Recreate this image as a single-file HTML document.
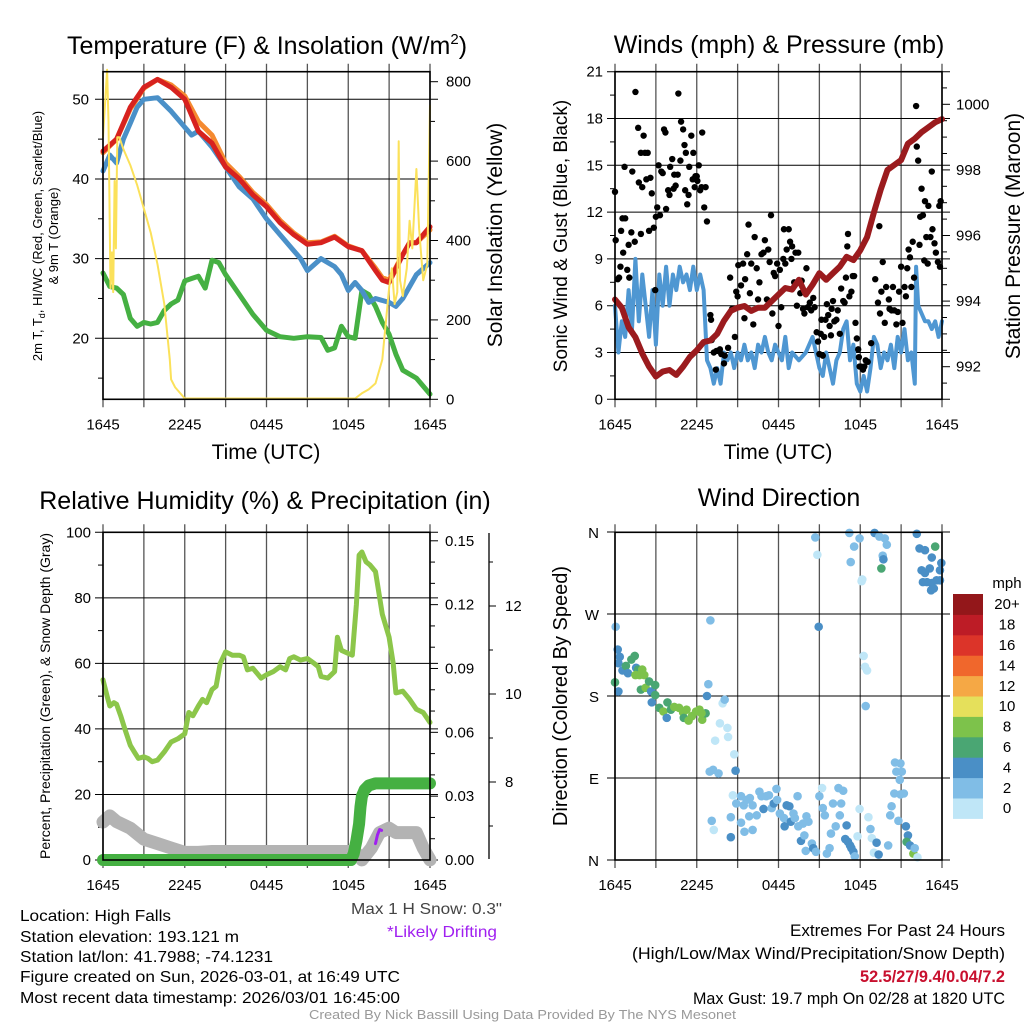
<!DOCTYPE html>
<html><head><meta charset="utf-8"><style>
html,body{margin:0;padding:0;background:#fff;}
svg{display:block;font-family:"Liberation Sans",Arial,sans-serif;}
</style></head><body>
<svg id="svg" width="1024" height="1024" viewBox="0 0 1024 1024" xmlns="http://www.w3.org/2000/svg">
<rect width="1024" height="1024" fill="#fff"/>
<text x="267" y="54" font-size="25" text-anchor="middle">Temperature (F) &amp; Insolation (W/m<tspan dy="-10" font-size="15">2</tspan><tspan dy="10">)</tspan></text>
<text x="779" y="53" font-size="25" text-anchor="middle">Winds (mph) &amp; Pressure (mb)</text>
<text x="265" y="509" font-size="25" text-anchor="middle">Relative Humidity (%) &amp; Precipitation (in)</text>
<text x="779" y="506" font-size="25" text-anchor="middle">Wind Direction</text>
<text x="266" y="459" font-size="21" text-anchor="middle">Time (UTC)</text>
<text x="778" y="459" font-size="21" text-anchor="middle">Time (UTC)</text>
<text transform="translate(42,236) rotate(-90)" font-size="13" text-anchor="middle">2m T, T<tspan font-size="9" dy="3">d</tspan><tspan dy="-3">, HI/WC (Red, Green, Scarlet/Blue)</tspan></text>
<text transform="translate(58,236) rotate(-90)" font-size="13" text-anchor="middle">&amp; 9m T (Orange)</text>
<text transform="translate(502,235) rotate(-90)" font-size="21" text-anchor="middle">Solar Insolation (Yellow)</text>
<text transform="translate(567,236) rotate(-90)" font-size="19" text-anchor="middle">Sonic Wind &amp; Gust (Blue, Black)</text>
<text transform="translate(1020,236) rotate(-90)" font-size="21" text-anchor="middle">Station Pressure (Maroon)</text>
<text transform="translate(50,696) rotate(-90)" font-size="14" text-anchor="middle">Percent, Precipitation (Green), &amp; Snow Depth (Gray)</text>
<text transform="translate(567,696) rotate(-90)" font-size="20" text-anchor="middle">Direction (Colored By Speed)</text>
<g font-size="16">
<text x="20" y="921" textLength="151" lengthAdjust="spacingAndGlyphs">Location: High Falls</text>
<text x="20" y="942" textLength="219" lengthAdjust="spacingAndGlyphs">Station elevation: 193.121 m</text>
<text x="20" y="962" textLength="253" lengthAdjust="spacingAndGlyphs">Station lat/lon: 41.7988; -74.1231</text>
<text x="20" y="982" textLength="380" lengthAdjust="spacingAndGlyphs">Figure created on Sun, 2026-03-01, at 16:49 UTC</text>
<text x="20" y="1003" textLength="380" lengthAdjust="spacingAndGlyphs">Most recent data timestamp: 2026/03/01 16:45:00</text>
</g>
<text x="351" y="914" font-size="16" fill="#444" textLength="151" lengthAdjust="spacingAndGlyphs">Max 1 H Snow: 0.3"</text>
<text x="387" y="937" font-size="16" fill="#a020f0" textLength="110" lengthAdjust="spacingAndGlyphs">*Likely Drifting</text>
<g font-size="17">
<text x="790" y="936" textLength="215" lengthAdjust="spacingAndGlyphs">Extremes For Past 24 Hours</text>
<text x="632" y="959" textLength="373" lengthAdjust="spacingAndGlyphs">(High/Low/Max Wind/Precipitation/Snow Depth)</text>
<text x="860" y="982" fill="#c8102e" font-weight="bold" textLength="145" lengthAdjust="spacingAndGlyphs">52.5/27/9.4/0.04/7.2</text>
<text x="693" y="1004" textLength="312" lengthAdjust="spacingAndGlyphs">Max Gust: 19.7 mph On 02/28 at 1820 UTC</text>
</g>
<text x="309" y="1019" font-size="13" fill="#999" textLength="427" lengthAdjust="spacingAndGlyphs">Created By Nick Bassill Using Data Provided By The NYS Mesonet</text>
</svg>
<script>
const xTickLabels=["1645","2245","0445","1045","1645"];
// Temperature panel
const tempHours=[0,1,2,3,4,5,6,7,8,9,10,11,12,13,14,15,16,17,18,19,20,20.5,21,22,22.5,23,24];
const tempRed=[43.5,45,49,51.5,52.5,51.5,50,46,44.5,41.5,40,38,36.5,34.5,33,31.8,32,32.7,31.5,31,28.5,27.3,27,30.5,32,32,34];
const tempOrange=[43.3,45,48.8,51.4,52.5,51.8,50.4,47.2,45.5,42,40.3,38.3,36.8,34.8,33.2,32,32.1,32.8,31.6,31,28.8,27.6,27.3,30.5,32,32,33.6];
const wcHours=[0,0.5,1,1.5,2,2.5,3,4,5,6,6.5,7,7.5,8,9,10,11,12,13,14,14.5,15,16,17,17.5,18,18.5,19,19.5,20,21,21.5,22,23,24];
const wcBlue=[41,43,42,45,47,49,50,50.2,48.5,46.5,45.5,46,45,44,41.5,39,37.5,35,33,31,30,28.5,30,29,28,26,27,26,24.5,25,24.5,24,25,28,29.5];
const dewHours=[0,0.5,1,1.5,2,2.5,3,3.5,4,4.5,5,5.5,6,6.5,7,7.5,8,8.5,9,10,11,12,13,14,15,16,16.5,17,17.5,18,18.5,19,19.5,20,20.5,21,21.5,22,23,23.5,24];
const dewGreen=[28.2,26.5,26.3,25.5,22.5,21.5,22,21.8,22,23.5,24.3,24.8,27.2,27.5,27.8,26.3,29.8,29.5,28,25.5,23,21,20.2,20,20.2,20.1,18.5,18.8,21.5,20.2,20,26,25.5,24,22,20.5,18,16,15,14,13];
const solarHours=[0,0.3,0.4,0.55,0.65,0.75,0.85,0.95,1.05,1.2,1.5,2,2.5,3,3.5,4,4.5,4.9,5,5.3,6,18.5,19,19.5,20,20.5,21,21.2,21.4,21.6,21.7,21.8,22,22.3,22.5,22.7,23,23.2,23.5,23.8,24];
const solarVals=[660,830,700,280,370,270,550,380,660,660,630,590,540,480,420,340,240,100,50,30,2,2,15,25,40,100,280,330,240,270,650,300,260,330,450,380,580,430,300,340,740];
// Wind panel
const pressHours=[0,0.5,1,1.5,2,2.5,3,3.5,4,4.5,5,5.5,6,6.5,7,7.5,8,8.5,9,9.5,10,10.5,11,11.5,12,12.5,13,13.5,14,14.5,15,15.5,16,16.5,17,17.5,18,18.5,19,19.5,20,20.5,21,21.5,22,22.5,23,23.5,24];
const pressVals=[994.05,993.8,993.2,992.9,992.4,992,991.7,991.85,991.9,991.75,992,992.3,992.5,992.75,992.8,993,993.4,993.7,993.8,993.85,993.7,993.8,993.8,994,994.2,994.4,994.35,994.65,994.2,994.5,994.85,994.65,994.85,995.05,995.35,995.25,995.55,995.95,996.7,997.4,998,998.15,998.3,998.8,998.95,999.15,999.3,999.45,999.55];
const windHours=[0,0.25,0.5,0.75,1,1.25,1.5,1.75,2,2.25,2.5,2.75,3,3.25,3.5,3.75,4,4.25,4.5,4.75,5,5.25,5.5,5.75,6,6.25,6.5,6.75,7,7.25,7.5,7.75,8,8.25,8.5,8.75,9,9.25,9.5,9.75,10,10.25,10.5,10.75,11,11.25,11.5,11.75,12,12.25,12.5,12.75,13,13.5,14,14.5,15,15.25,15.5,15.75,16,16.25,16.5,16.75,17,17.25,17.5,17.75,18,18.25,18.5,18.75,19,19.25,19.5,19.75,20,20.25,20.5,20.75,21,21.25,21.5,21.75,22,22.1,22.25,22.5,22.75,23,23.25,23.5,23.75,24];
const windVals=[6,3,5,4,7,4.5,9,5,8,6,4,7,3.5,8,6,8.5,6,8,7,8.5,7.5,8,7,8.5,7,8,7,2.5,2,1,2,1,3,2.5,3,2,3,2.5,3.5,2.5,3,2,3.5,3,4,3,2.5,3.5,3,2.5,4,2,3,2.5,3,4,2,1.5,3,2,1,2.5,3,4.5,5,2.5,3.5,1,0.5,1.5,0.5,2,4,3.5,2,3,2.5,3.5,2,4,3,4.5,2.5,3,1,8.5,6,5.5,5,5,4.5,5,4,5];
const gustHours=[0,0.05,0.2,0.3,0.4,0.45,0.55,0.75,0.6,0.7,0.9,1,1.05,1.2,1.27,1.45,1.5,1.7,1.75,1.9,1.9,2,2.1,2.2,2.3,2.4,2.5,2.6,2.7,2.85,2.95,3,3.1,3.2,3.3,3.4,3.5,3.6,3.7,3.75,3.9,4,4.05,4.2,4.3,4.35,4.45,4.6,4.65,4.8,4.85,5,5.1,5.15,5.2,5.3,5.4,5.45,5.6,5.7,5.75,5.85,5.9,6,6.05,6.15,6.25,6.35,6.4,6.55,6.65,6.75,7,7.05,7.1,7.25,7.4,7.45,7.6,7.7,7.8,8,8.05,8.3,8.45,8.6,8.8,8.9,9,9.05,9.25,9.4,9.5,9.55,9.7,9.8,9.9,10,10.15,10.25,10.4,10.5,10.6,10.75,10.9,11,11.15,11.25,11.35,11.45,11.55,11.65,11.75,11.9,12,12.1,12.2,12.35,12.4,12.5,12.6,12.75,12.85,12.95,13,13.15,13.25,13.35,13.45,13.6,13.7,13.8,13.9,14.05,14.15,14.3,14.4,14.55,14.65,14.8,14.9,15,15.1,15.15,15.25,15.35,15.45,15.55,15.65,15.75,15.85,15.9,16,16.1,16.25,16.35,16.5,16.6,16.75,16.85,16.95,17.05,17.1,17.2,17.35,17.45,17.55,17.65,17.75,17.85,17.9,17.95,18.05,18.2,18.3,18.4,18.55,18.8,19.1,19.3,19.4,19.45,19.55,19.65,19.8,19.9,20.1,20.15,20.3,20.4,20.5,20.65,20.75,20.85,21,21.1,21.25,21.35,21.45,21.55,21.65,21.75,21.85,21.95,22.1,22.15,22.25,22.35,22.4,22.5,22.6,22.7,22.75,22.85,22.95,23,23.15,23.25,23.3,23.45,23.55,23.7,23.8,23.9,23.85];
const gustVals=[13.3,10.2,7.7,7.8,8.5,10.8,11.6,11.6,9.4,14.9,8.3,9.9,7.8,10.7,14.6,10.1,19.7,17.4,13.9,10.6,15.8,13.6,16.9,15.8,14.1,15.8,10.8,14.2,13.2,11,7,11.7,12.3,15,11.8,14.6,14.5,17.3,17.1,12.2,13.4,13.1,14.9,15.4,13.5,14.4,13.7,14.4,19.6,15.3,17.8,17.3,16.3,13.4,15.8,12.5,13.1,14.9,16.9,14.1,15.8,13.6,14.3,14.3,14,15,13.4,13.6,17.1,12.3,13.6,11.4,5.4,5.1,3.8,3,1.9,3.1,3.1,3.2,2.9,2.3,2.8,3.3,7.8,5.8,4,6.9,6.6,8.6,7.3,8.7,5.2,7.7,9.3,11.2,6.8,8.7,4.8,10.4,8.4,6.4,7.5,9.3,9.4,10.2,6.4,9.6,8.8,11.8,5.5,8.1,7.9,8.7,4.7,8.3,5.9,9,10.9,8.7,9.6,10.9,10.1,9,9.8,7.5,9.4,6,9.4,6.8,7.6,5.8,5.5,8.4,5.9,6.2,5.7,6.5,5.9,4.3,3.7,2.9,4.2,5.1,2.8,4,5.1,6.1,5.4,4.7,4.1,5.8,6.3,5,5.1,5.7,4.2,7.1,6.3,6.2,7.8,9.8,10.6,6.6,6.9,7.9,7.9,4.9,3.9,3.2,2.7,2.1,2.1,1.9,2.1,2.5,2.4,3.6,7.7,6.2,11.1,5.5,6.9,8.8,4.9,7.2,6.4,5.8,5.7,7.2,5.7,4.8,5.6,6.9,8.5,4.9,7.2,6.6,8.4,9.6,9.1,7.2,10.1,7.8,18.8,16.2,15.3,9.9,11.7,13.5,11.8,8.9,12.7,10.4,8.7,12.4,10.4,14.6,10.9,10,9.4,8.8,12.4,12.7,8.5];
// RH panel
const rhHours=[0,0.3,0.5,0.8,1,1.3,1.6,2,2.3,2.6,3,3.3,3.6,4,4.5,5,5.5,6,6.3,6.6,7,7.3,7.6,8,8.3,8.6,9,9.5,10,10.3,10.6,11,11.3,11.6,12,12.5,13,13.4,13.7,14,14.5,15,15.5,15.8,16,16.5,17,17.2,17.5,18,18.3,18.6,18.8,19,19.3,19.6,20,20.5,21,21.3,21.5,22,22.5,23,23.5,24];
const rhVals=[55,50,47,48,47.5,44,40,35,33,31,31.5,31,30,30.5,33,36,37,38.5,45,44,47,49,48,52,53,60,63.5,62.5,62.5,62,58,58.5,57,55.5,56.5,57.5,59,58,61.5,62,61,61.5,60,59,56,55.5,57.5,68,64,63,62.5,78,93,94,91,90,88,75,68,60,51,51.5,49,46,45,42];
const precipHours=[0,18.2,18.4,18.6,18.8,18.9,19,19.2,19.5,20,24];
const precipVals=[0,0,0.003,0.009,0.017,0.025,0.03,0.033,0.035,0.036,0.036];
const snowHours=[0,0.5,1,2,3,4,5,6,7,8,18.5,19,19.7,20.3,21,21.5,22,23,23.5,24];
const snowVals=[7.09,7.23,7.1,6.95,6.7,6.6,6.5,6.4,6.4,6.42,6.42,6.23,6.5,6.85,6.95,6.85,6.85,6.85,6.5,6.23];
const driftHours=[20,20.15,20.3,20.45];
const driftVals=[6.6,6.8,6.92,6.9];
// Direction panel
const dirHours=[0.05,0.2,0.35,0.25,0,0.25,0.55,0.8,0.95,1.2,1.45,1.55,1.7,1.5,1.8,2,2.15,1.9,2.25,2.5,2.65,2.95,2.7,2.95,3.25,3.55,3.85,4.1,3.8,4.35,4.7,5,5.25,5.05,5.4,5.65,5.95,6.2,6.4,6.65,6.35,6.85,6.75,7,7.9,8.05,7.7,8.25,7.35,8.3,8.75,6.95,7.2,7.6,8.85,8.65,7.1,7.25,8.5,8.5,8.9,9.25,9.45,9.65,9.9,10.1,9.25,9.5,9.85,10.1,10.4,10.6,10.75,10.9,11.1,11.3,11.5,11.65,11.85,11.9,12.1,12.4,12.45,12.6,12.8,12.9,13.1,13.2,13.4,13.45,13.65,13.8,13.9,14,14.05,14.2,14.45,14.55,14.75,15,15.2,15.25,15.4,15.55,15.75,15.85,16,16.2,16.4,16.5,16.6,16.75,16.9,17,17.1,17.25,17.35,17.5,17.6,17.8,17.95,18.6,18.75,18.85,19,19.2,19.35,20.05,20.2,20.3,20.5,20.8,20.95,21.2,20.9,20.55,20.65,20.95,21.05,21.35,21.5,21.4,21.65,21.9,22.2,22,14.7,14.85,14.95,17.2,17.55,17.3,17.95,18.1,18.15,18.25,18.35,18.5,18.4,19.05,19.4,19.8,19.95,19.65,19.7,19.55,22.15,22.35,22.75,23.5,23.25,22.5,23.1,23.95,23.85,22.6,22.9,23.25,23.6,23.85,23.2,23.4,22.75];
const dirVals=[256,231,223,216,195,185,208,213,205,220,224,211,209,203,203,209,203,187,189,196,185,192,173,181,167,163,173,165,156,168,167,162,165,156,153,158,163,165,154,161,161,193,180,263,172,176,150,145,131,135,116,97,99,95,98,71,43,33,25,47,62,70,60,66,68,60,41,31,48,33,49,75,70,56,70,71,57,62,78,66,51,46,37,60,59,42,51,46,70,37,21,40,27,10,48,42,18,13,9,70,79,57,49,7,13,29,62,37,79,49,62,76,23,38,20,16,13,9,4,26,56,47,34,24,8,19,6,16,49,59,73,43,72,73,88,107,97,106,97,37,27,20,16,7,3,13,354,335,256,359,344,327,353,306,308,224,212,208,169,359,355,353,346,334,330,320,358,342,340,344,332,318,320,326,318,305,305,304,307,307,296,298,315];
const dirSpeeds=[2,4,4,4,6,4,4,6,4,6,6,4,6,8,8,8,8,6,8,6,4,6,4,6,6,8,6,6,4,8,8,8,8,6,8,8,8,8,8,6,8,2,4,2,0,2,0,0,0,0,0,2,2,2,4,0,2,0,4,2,2,2,2,2,2,2,2,2,2,2,2,2,2,4,2,2,2,4,2,2,2,2,4,4,4,4,2,2,2,2,4,2,2,2,2,2,2,4,2,2,0,2,2,2,2,2,2,2,2,2,2,2,4,4,4,4,4,4,2,0,0,0,2,0,0,4,4,2,2,2,2,2,2,2,2,2,2,2,2,4,4,6,4,8,0,2,2,0,4,2,2,2,2,0,0,0,0,0,2,4,2,2,2,2,4,6,4,4,4,6,4,4,4,4,4,4,4,4,4,4];
const speedBins=["0","2","4","6","8","10","12","14","16","18","20+"];
const speedColors=["#bfe6f7","#80bde6","#4a8fc6","#4aa673","#7dc24b","#e5e05b","#f5a845","#f0672c","#dc3429","#bd1c26","#93171a"];

const NS="http://www.w3.org/2000/svg";
const svg=document.getElementById('svg');
function el(tag,attrs,parent,name,inter){
  const e=document.createElementNS(NS,tag);
  for(const k in attrs)e.setAttribute(k,attrs[k]);
  
  
  (parent||svg).appendChild(e);return e;
}
function txt(x,y,s,size,anchor,parent,name,fill){
  const t=el('text',{x:x,y:y,'font-size':size,'text-anchor':anchor||'middle',fill:fill||'#000'},parent,name,false);
  t.textContent=s;return t;
}
function P(x0,x1,y0,y1){return {x0,x1,y0,y1,x:h=>x0+h/24*(x1-x0)};}
const p1=P(103,430,71.7,399.3),p2=P(615,942,71.7,399.3),p3=P(103,430,532.3,860),p4=P(615,942,532.3,860);

function frame(p,name,lab){
  const g=el('g',{},svg,name+'-grid',false);
  for(let h=0;h<=24;h+=3){
    const x=p.x(h);
    el('line',{x1:x,x2:x,y1:p.y0-8,y2:p.y1+8,stroke:'#555','stroke-width':1.3},g,name+'-vgrid-'+h,false);
  }
  if(lab){xTickLabels.forEach((s,i)=>{txt(p.x(i*6),p.y1+30,s,15,'middle',g,name+'-x-tick-label');});}
  return g;
}
function hgrid(p,g,y,name){el('line',{x1:p.x0-8,x2:p.x1+8,y1:y,y2:y,stroke:'#000','stroke-width':1},g,name,false);}
function border(p,name){el('rect',{x:p.x0,y:p.y0,width:p.x1-p.x0,height:p.y1-p.y0,fill:'none',stroke:'#000','stroke-width':1.6},svg,name,false);}
function pts(p,hs,vs,fy){return hs.map((h,i)=>p.x(h).toFixed(1)+','+fy(vs[i]).toFixed(1)).join(' ');}
function line(p,hs,vs,fy,color,w,name){return el('polyline',{points:pts(p,hs,vs,fy),fill:'none',stroke:color,'stroke-width':w,'stroke-linejoin':'round','stroke-linecap':'round'},svg,name,false);}
function minor(x,y,len,g,name){el('line',{x1:x,x2:x+len,y1:y,y2:y,stroke:'#000','stroke-width':1},g,name,false);}

// ---- Panel 1
const yT=v=>338.3-(v-20)*7.967, yS=v=>399.3-v*(399.3-81.7)/800;
let g=frame(p1,'temp',true);
[20,30,40,50].forEach(v=>{hgrid(p1,g,yT(v),'temp-hgrid-'+v);txt(p1.x0-14,yT(v)+5,String(v),15,'end',g,'temp-y-tick-label');});
[15,25,35,45].forEach(v=>minor(p1.x0-5,yT(v),5,g,'temp-minor-tick'));
[0,200,400,600,800].forEach(v=>{minor(p1.x1,yS(v),8,g,'solar-tick');txt(p1.x1+16,yS(v)+5,String(v),15,'start',g,'solar-y-tick-label');});
[100,300,500,700].forEach(v=>minor(p1.x1,yS(v),5,g,'solar-minor-tick'));
line(p1,dewHours,dewGreen,yT,'#45b042',5,'dewpoint-line');
line(p1,wcHours,wcBlue,yT,'#4a90c8',5,'windchill-line');
line(p1,tempHours,tempOrange,yT,'#f58a30',5,'temp-9m-line');
line(p1,tempHours,tempRed,yT,'#d7221f',5,'temp-2m-line');
line(p1,solarHours,solarVals,yS,'#fbe15a',2,'solar-line');
border(p1,'temp-plot-border');

// ---- Panel 2
const yW=v=>399.3-v*15.6, yP=v=>366.7-(v-992)*32.8;
g=frame(p2,'wind',true);
[0,3,6,9,12,15,18,21].forEach(v=>{hgrid(p2,g,yW(v),'wind-hgrid-'+v);txt(p2.x0-12,yW(v)+5,String(v),15,'end',g,'wind-y-tick-label');});
[1.5,4.5,7.5,10.5,13.5,16.5,19.5].forEach(v=>minor(p2.x0-5,yW(v),5,g,'wind-minor-tick'));
[992,994,996,998,1000].forEach(v=>{minor(p2.x1,yP(v),8,g,'pressure-tick');txt(p2.x1+14,yP(v)+5,String(v),15,'start',g,'pressure-y-tick-label');});
[991.5,992.5,993,993.5,994.5,995,995.5,996.5,997,997.5,998.5,999,999.5,1000.5].forEach(v=>minor(p2.x1,yP(v),5,g,'pressure-minor-tick'));
line(p2,windHours,windVals,yW,'#4f97d2',4,'sonic-wind-line');
const gg=el('g',{},svg,'gust-points',false);
gustHours.forEach((h,i)=>{el('circle',{cx:p2.x(h),cy:yW(gustVals[i]),r:3.2,fill:'#000'},gg,'gust-point',false);});
line(p2,pressHours,pressVals,yP,'#9b1b1e',6,'pressure-line');
border(p2,'wind-plot-border');

// ---- Panel 3
const yR=v=>860-v*3.277, yPr=v=>860-v*2128, ySn=v=>782-(v-8)*44;
g=frame(p3,'rh',true);
[0,20,40,60,80,100].forEach(v=>{hgrid(p3,g,yR(v),'rh-hgrid-'+v);txt(p3.x0-12,yR(v)+5,String(v),15,'end',g,'rh-y-tick-label');});
[10,30,50,70,90].forEach(v=>minor(p3.x0-5,yR(v),5,g,'rh-minor-tick'));
[0,0.03,0.06,0.09,0.12,0.15].forEach(v=>{minor(p3.x1,yPr(v),8,g,'precip-tick');txt(p3.x1+15,yPr(v)+5,v.toFixed(2),15,'start',g,'precip-y-tick-label');});
[0.01,0.02,0.04,0.05,0.07,0.08,0.1,0.11,0.13,0.14].forEach(v=>minor(p3.x1,yPr(v),5,g,'precip-minor-tick'));
el('line',{x1:489,x2:489,y1:533,y2:859,stroke:'#000','stroke-width':1.3},g,'snow-axis-line',false);
[8,10,12].forEach(v=>{minor(489,ySn(v),7,g,'snow-tick');txt(505,ySn(v)+5,String(v),15,'start',g,'snow-y-tick-label');});
[7,9,11,13].forEach(v=>minor(489,ySn(v),4,g,'snow-minor-tick'));
line(p3,snowHours,snowVals,ySn,'#b3b3b3',13,'snow-depth-line');
line(p3,driftHours,driftVals,ySn,'#a020f0',3,'drifting-segment');
line(p3,precipHours,precipVals,yPr,'#45b042',12,'precip-line');
line(p3,rhHours,rhVals,yR,'#8cc64a',5,'rh-line');
border(p3,'rh-plot-border');

// ---- Panel 4
const yD=d=>860-d*0.9111;
g=frame(p4,'dir',true);
[['N',0],['E',90],['S',180],['W',270],['N',360]].forEach(a=>{hgrid(p4,g,yD(a[1]),'dir-hgrid-'+a[1]);txt(p4.x0-16,yD(a[1])+6,a[0],15,'end',g,'dir-y-tick-label');});
const dg=el('g',{},svg,'direction-points',false);
dirHours.forEach((h,i)=>{const s=(dirSpeeds[i]===undefined)?4:dirSpeeds[i];
  const c=speedColors[Math.min(10,Math.floor(s/2))];
  el('circle',{cx:p4.x(h),cy:yD(dirVals[i]),r:4.3,fill:c},dg,'direction-point',false);});
border(p4,'dir-plot-border');
const cb=el('g',{},svg,'speed-colorbar',false);
txt(1007,588,'mph',15,'middle',cb,'colorbar-title');
const bh=20.4;
speedBins.forEach((s,i)=>{const y=594+(10-i)*bh;
  el('rect',{x:953,y:y,width:30,height:bh+0.5,fill:speedColors[i]},cb,'colorbar-swatch-'+s,false);
  txt(1007,y+bh/2+5,s,15,'middle',cb,'colorbar-label');});
</script>
</body></html>
